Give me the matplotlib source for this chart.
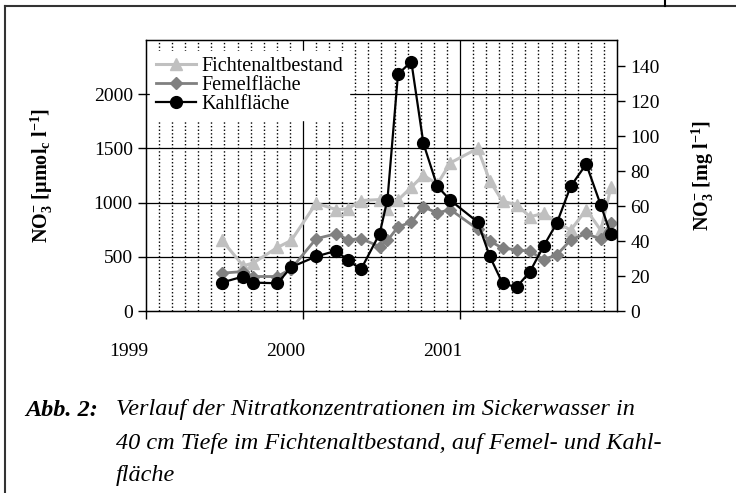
#!/usr/bin/env python3
import matplotlib
matplotlib.use("Agg")
import matplotlib.pyplot as plt
import matplotlib.transforms as mtransforms
from matplotlib.lines import Line2D
import numpy as np

# Sampling dates (decimal years)
dates = [1999.481, 1999.619, 1999.682, 1999.837, 1999.925,
         2000.084, 2000.212, 2000.287, 2000.370, 2000.488,
         2000.538, 2000.605, 2000.690, 2000.767, 2000.855,
         2000.939, 2001.113, 2001.190, 2001.271, 2001.360,
         2001.446, 2001.533, 2001.617, 2001.705, 2001.804,
         2001.897, 2001.961]

# NO3- in umol_c/l
fichten = [657, 417, 442, 586, 651, 994, 935, 944, 1019, 1028,
           944, 1024, 1142, 1253, 1170, 1367, 1500, 1200, 1012, 981,
           870, 900, 820, 745, 935, 745, 1140]
femel = [349, 364, 318, 318, 390, 667, 713, 657, 667, 595,
         651, 775, 821, 960, 905, 935, 755, 645, 580, 565,
         550, 475, 518, 655, 715, 662, 815]
kahl = [262, 318, 262, 256, 405, 503, 556, 466, 386, 713,
        1028, 2185, 2300, 1546, 1151, 1021, 820, 503, 256, 219,
        364, 600, 812, 1150, 1355, 975, 707]

labels = ["Fichtenaltbestand", "Femelfläche", "Kahlfläche"]
year_ticks = [1999, 2000, 2001]
left_ticks = [0, 500, 1000, 1500, 2000]
right_ticks = [0, 20, 40, 60, 80, 100, 120, 140]

plt.rcParams["font.family"] = ["Liberation Serif", "DejaVu Serif"]
plt.rcParams["mathtext.fontset"] = "custom"
plt.rcParams["mathtext.rm"] = "Liberation Serif"
plt.rcParams["mathtext.bf"] = "Liberation Serif:bold"
plt.rcParams["mathtext.it"] = "Liberation Serif:italic"

fig = plt.figure(figsize=(7.36, 4.93), dpi=100)
ax = fig.add_axes([146 / 736, 1 - 311 / 493, 471 / 736, 271 / 493])

# Grid: dotted months, solid years and 500 steps
months = np.arange(1999, 2002 + 1e-9, 1 / 12)
for m in months:
    if abs(m - round(m)) < 1e-6:
        continue
    ax.axvline(m, color="black", lw=1.0, ls=(0, (1, 1.6)), zorder=1)
for yr in [2000, 2001]:
    ax.axvline(yr, color="black", lw=0.9, zorder=1)
for v in [500, 1000, 1500, 2000]:
    ax.axhline(v, color="black", lw=0.9, zorder=1)

# Series
ax.plot(dates, fichten, color="#c0c0c0", lw=2.2, marker="^", ms=8,
        label=labels[0], zorder=3)
ax.plot(dates, femel, color="#808080", lw=2.0, marker="D", ms=6,
        label=labels[1], zorder=4)
ax.plot(dates, kahl, color="black", lw=1.6, marker="o", ms=8.5,
        label=labels[2], zorder=5)

ax.set_xlim(1999, 2002)
ax.set_ylim(0, 2500)
ax.set_xticks(year_ticks)
ax.set_xticklabels([str(y) for y in year_ticks])
ax.set_yticks(left_ticks)
ax.tick_params(axis="both", direction="out", length=6, width=1, labelsize=14)
ax.tick_params(axis="x", pad=17)
for s in ax.spines.values():
    s.set_linewidth(1.0)

# year labels sit a bit left of their ticks
shift = mtransforms.ScaledTranslation(-17 / 100, 0, fig.dpi_scale_trans)
for lab in ax.get_xticklabels():
    lab.set_transform(lab.get_transform() + shift)

ax.set_ylabel(r"NO$_{\mathbf{3}}^{\mathbf{-}}$ [µmol$_{\mathbf{c}}$ l$^{\mathbf{-1}}$]",
              fontsize=14.5, fontweight="bold", labelpad=28)

# Right axis in mg/l
ax2 = ax.twinx()
ax2.set_ylim(0, 2500 * 0.062)
ax2.set_yticks(right_ticks)
ax2.tick_params(axis="y", direction="out", length=6, width=1, labelsize=14)
ax2.set_ylabel(r"NO$_{\mathbf{3}}^{\mathbf{-}}$ [mg l$^{\mathbf{-1}}$]",
               fontsize=14.5, fontweight="bold", labelpad=22)

leg = ax.legend(loc="upper left", bbox_to_anchor=(0.0, 0.975), frameon=True,
                fontsize=14.5, handlelength=2.0, handletextpad=0.25,
                labelspacing=0.0, borderpad=0.3, borderaxespad=0.2)
leg.get_frame().set_facecolor("white")
leg.get_frame().set_edgecolor("white")
leg.get_frame().set_alpha(1.0)
leg.get_frame().set_boxstyle("square", pad=0.0)
leg.set_zorder(6)

# Outer frame of the figure box
fig.add_artist(Line2D([5 / 736, 5 / 736], [0, 1 - 6 / 493], transform=fig.transFigure,
                      color="#333333", lw=1.5))
fig.add_artist(Line2D([5 / 736, 1], [1 - 6 / 493, 1 - 6 / 493], transform=fig.transFigure,
                      color="#333333", lw=1.5))
fig.add_artist(Line2D([665 / 736, 665 / 736], [1, 1 - 6 / 493], transform=fig.transFigure,
                      color="black", lw=1.5))

# Caption
fig.text(25 / 736, 1 - 410 / 493, "Abb. 2:", fontsize=17.5, fontweight="bold",
         style="italic", va="center", ha="left")
cap = ["Verlauf der Nitratkonzentrationen im Sickerwasser in",
       "40 cm Tiefe im Fichtenaltbestand, auf Femel- und Kahl-",
       "fläche"]
for i, line in enumerate(cap):
    fig.text(116 / 736, 1 - (410 + 33 * i) / 493, line, fontsize=17.5,
             style="italic", va="center", ha="left")

fig.savefig("out.png", dpi=100)
